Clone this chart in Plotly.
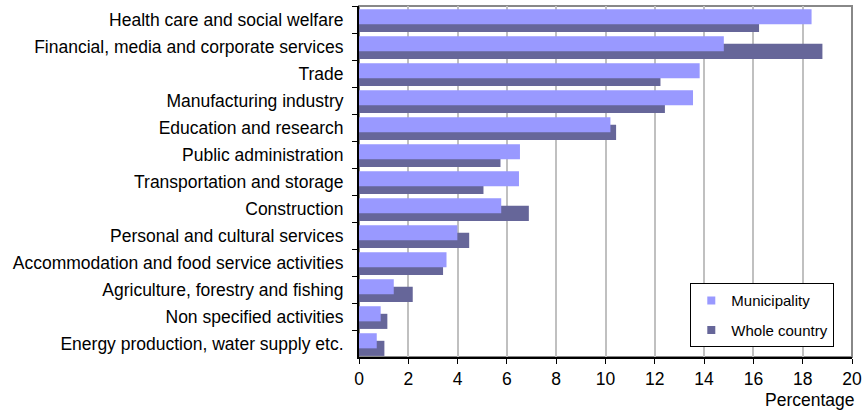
import plotly.graph_objects as go

categories = [
    "Health care and social welfare",
    "Financial, media and corporate services",
    "Trade",
    "Manufacturing industry",
    "Education and research",
    "Public administration",
    "Transportation and storage",
    "Construction",
    "Personal and cultural services",
    "Accommodation and food service activities",
    "Agriculture, forestry and fishing",
    "Non specified activities",
    "Energy production, water supply etc.",
]
municipality = [18.36, 14.80, 13.82, 13.55, 10.20, 6.53, 6.49, 5.77, 3.99, 3.55, 1.41, 0.88, 0.72]
whole_country = [16.23, 18.80, 12.23, 12.41, 10.43, 5.74, 5.05, 6.89, 4.47, 3.41, 2.18, 1.15, 1.03]
x_ticks = [0, 2, 4, 6, 8, 10, 12, 14, 16, 18, 20]

LIGHT = "#9999FF"
DARK = "#666699"
FONT = "Arial, Liberation Sans, sans-serif"

fig = go.Figure()
# dark bar behind, light bar in front
fig.add_trace(go.Bar(
    y=categories, x=whole_country, orientation="h",
    offset=-0.10, width=0.56, marker=dict(color=DARK, line=dict(width=0)),
    showlegend=False, name="Whole country", hoverinfo="x+name",
))
fig.add_trace(go.Bar(
    y=categories, x=municipality, orientation="h",
    offset=-0.38, width=0.56, marker=dict(color=LIGHT, line=dict(width=0)),
    showlegend=False, name="Municipality", hoverinfo="x+name",
))
# legend entries
fig.add_trace(go.Scatter(
    x=[None], y=[None], mode="markers", name="Municipality",
    marker=dict(symbol="square", size=8, color=LIGHT), legendgroup="a",
))
fig.add_trace(go.Scatter(
    x=[None], y=[None], mode="markers", name="Whole country",
    marker=dict(symbol="square", size=8, color=DARK), legendgroup="b",
))

fig.update_layout(
    width=868, height=412,
    margin=dict(l=359, r=11, t=6, b=55),
    paper_bgcolor="white", plot_bgcolor="white",
    barmode="overlay",
    font=dict(family=FONT, size=17.5, color="black"),
    legend=dict(
        x=0.672, y=0.21, xanchor="left", yanchor="top",
        bordercolor="black", borderwidth=1, bgcolor="white",
        font=dict(size=15, family=FONT, color="black"),
        tracegroupgap=7,
    ),
    xaxis=dict(
        range=[0, 20], tickvals=x_ticks, ticktext=[str(v) for v in x_ticks],
        showgrid=True, gridcolor="#C0C0C0", gridwidth=2,
        showline=True, linecolor="black", linewidth=2,
        ticks="outside", ticklen=5, tickcolor="black", tickwidth=1,
        zeroline=False, tickfont=dict(size=17.5),
    ),
    yaxis=dict(
        type="category", categoryorder="array", categoryarray=categories,
        range=[12.5, -0.5],
        showgrid=False, showline=True, linecolor="black", linewidth=2,
        ticks="outside", ticklen=5, tickcolor="black", tickwidth=1,
        tickson="boundaries", ticklabelstandoff=10,
        tickfont=dict(size=17.5),
    ),
    shapes=[dict(
        type="rect", xref="paper", yref="paper", x0=0, x1=1, y0=0, y1=1,
        line=dict(color="#888888", width=2), layer="between",
    )],
    annotations=[dict(
        text="Percentage", xref="paper", yref="paper",
        x=1.01, y=-0.122, xanchor="right", yanchor="middle",
        showarrow=False, font=dict(size=17.5, family=FONT, color="black"),
    )],
)

fig.write_html("out.html")
